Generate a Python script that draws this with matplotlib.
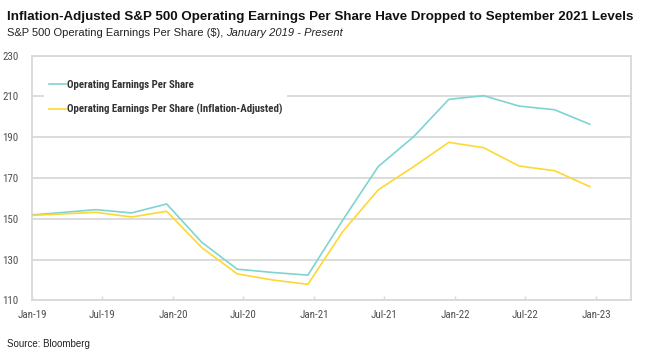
import matplotlib
matplotlib.use("Agg")
import matplotlib.pyplot as plt
import matplotlib.dates as mdates
from matplotlib import font_manager as fm
import pandas as pd

dates = ["2019-01-01", "2019-06-15", "2019-09-15", "2019-12-15",
         "2020-03-15", "2020-06-15", "2020-09-15", "2020-12-15",
         "2021-03-15", "2021-06-15", "2021-09-15", "2021-12-15",
         "2022-03-15", "2022-06-15", "2022-09-15", "2022-12-15"]
eps = [151.9, 154.5, 152.9, 157.3, 138.5, 125.3, 123.7, 122.4,
       149.3, 175.6, 190.3, 208.6, 210.4, 205.3, 203.5, 196.4]
eps_real = [151.7, 153.2, 150.9, 153.7, 135.9, 123.0, 120.0, 117.9,
            143.7, 164.2, 175.6, 187.5, 184.9, 175.9, 173.6, 165.8]
series_names = ["Operating Earnings Per Share",
                "Operating Earnings Per Share (Inflation-Adjusted)"]
yticks = [110, 130, 150, 170, 190, 210, 230]
title = "Inflation-Adjusted S&P 500 Operating Earnings Per Share Have Dropped to September 2021 Levels"
subtitle_a = "S&P 500 Operating Earnings Per Share ($), "
subtitle_b = "January 2019 - Present"
source = "Source: Bloomberg"


def _wnum(w):
    if isinstance(w, (int, float)):
        return w
    return {"bold": 700, "semibold": 600, "demibold": 600, "heavy": 800,
            "black": 900, "extra bold": 800}.get(str(w).lower(), 400)


def find_condensed(bold):
    prefs = ["liberation sans narrow", "arial narrow", "roboto condensed",
             "open sans condensed", "dejavu sans condensed", "noto sans condensed",
             "dejavu sans"]
    best = None
    for f in fm.fontManager.ttflist:
        nm = f.name.lower()
        fn = f.fname.lower()
        cond = ("narrow" in nm or "condensed" in nm or "narrow" in fn
                or "condensed" in fn or str(f.stretch).lower() in ("condensed", "semi-condensed"))
        if not cond or f.style != "normal":
            continue
        if "semicondensed" in fn or "extracondensed" in fn:
            continue
        w = _wnum(f.weight)
        if bold and w < 600:
            continue
        if not bold and w >= 600:
            continue
        if not bold and ("light" in fn or "thin" in fn or "medium" in fn):
            continue
        rank = len(prefs)
        for i, p in enumerate(prefs):
            if p in nm or p.replace(" ", "") in fn:
                rank = i
                break
        if best is None or rank < best[0]:
            best = (rank, f.fname)
    return best[1] if best else None


cond_reg = find_condensed(False)
cond_bold = find_condensed(True)


def fp(path, size, fallback_weight="normal"):
    if path:
        return fm.FontProperties(fname=path, size=size)
    return fm.FontProperties(family=["Liberation Sans", "DejaVu Sans"],
                             weight=fallback_weight, size=size * 0.85)


sans = ["Liberation Sans", "DejaVu Sans"]
W, H = 646, 354
x = pd.to_datetime(dates)

fig = plt.figure(figsize=(W / 100, H / 100), dpi=100)
ax = fig.add_axes([32.3 / W, 1 - 300.4 / H, (631 - 32.3) / W, (300.4 - 55.7) / H])

grid_c = "#d9d9d9"
ax.plot(x, eps, color="#7fd4d1", lw=1.2, label=series_names[0], zorder=3)
ax.plot(x, eps_real, color="#fdd835", lw=1.2, label=series_names[1], zorder=3)

ax.set_ylim(110, 230)
ax.set_yticks(yticks)
ax.set_xlim(pd.Timestamp("2019-01-01"), pd.Timestamp("2023-04-01"))
ax.xaxis.set_major_locator(mdates.MonthLocator(bymonth=[1, 7]))
ax.xaxis.set_major_formatter(mdates.DateFormatter("%b-%y"))

ax.grid(axis="y", color=grid_c, lw=1.3, zorder=1)
for s in ax.spines.values():
    s.set_color(grid_c)
    s.set_linewidth(1.3)
ax.tick_params(axis="x", direction="in", length=3, color=grid_c, width=1, pad=7,
               labelcolor="#505050")
ax.tick_params(axis="y", length=0, pad=10, labelcolor="#505050")
tick_fp = fp(cond_reg, 7.9)
for lab in ax.get_xticklabels() + ax.get_yticklabels():
    lab.set_fontproperties(tick_fp)

leg = ax.legend(loc="upper left", bbox_to_anchor=(0.011, 0.94), frameon=True,
                handlelength=1.6, handletextpad=0.1, labelspacing=1.3,
                prop=fp(cond_bold, 7.8, "bold"))
leg.get_frame().set_facecolor("white")
leg.get_frame().set_edgecolor("none")
leg.get_frame().set_alpha(1)
for t in leg.get_texts():
    t.set_color("#333333")

tt = fig.text(7 / W, 1 - 17 / H, title, family=sans, weight="bold", size=10.6,
              va="center", ha="left", color="#111111")
t1 = fig.text(7 / W, 1 - 33 / H, subtitle_a, family=sans, size=8.0,
              va="center", ha="left", color="#222222")
fig.canvas.draw()
tw = tt.get_window_extent().width
if tw > 631:
    tt.set_size(10.6 * 631 / tw)
bb = t1.get_window_extent()
fig.text(bb.x1 / W, 1 - 33 / H, subtitle_b, family=sans, size=8.0, style="italic",
         va="center", ha="left", color="#222222")
fig.text(7 / W, 1 - 344 / H, source, family=sans, size=7,
         va="center", ha="left", color="#222222")

fig.savefig("out.png", dpi=100)
